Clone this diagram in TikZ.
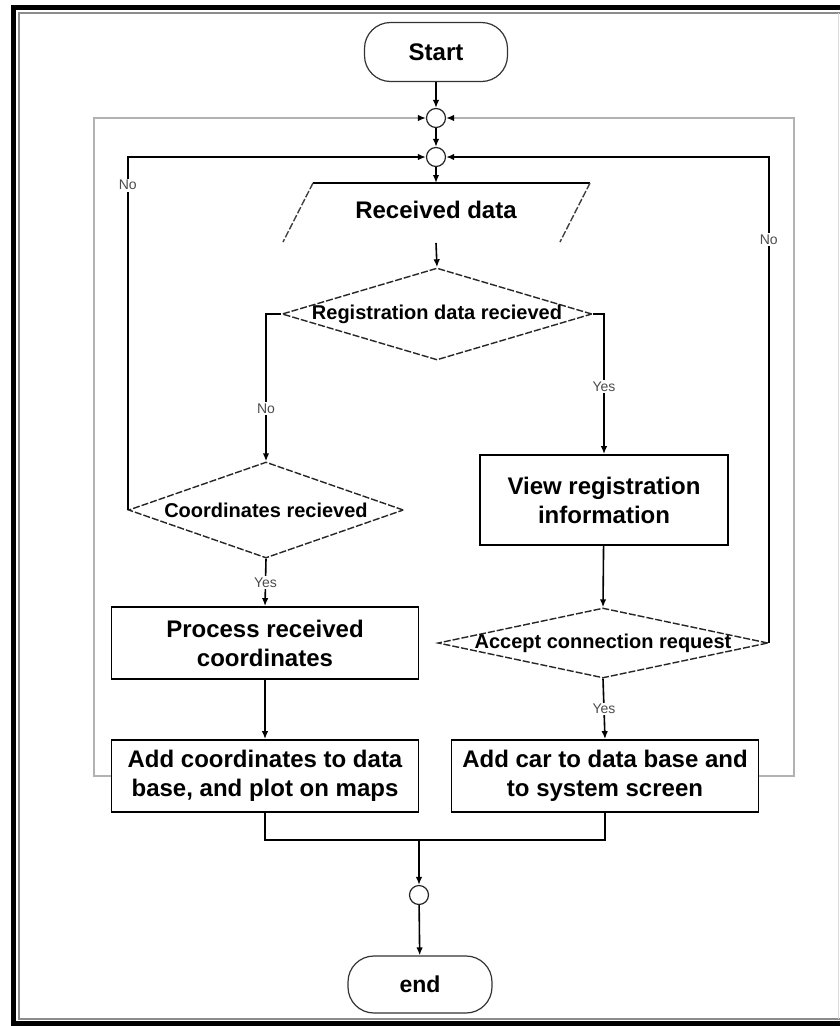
\documentclass[tikz,border=0pt]{standalone}
\usepackage{fontspec}
\setmainfont{Liberation Sans}
\usetikzlibrary{arrows.meta,shapes.geometric}
\begin{document}
\begin{tikzpicture}[x=1pt,y=-1pt,
  line width=1.6pt,
  tip/.style={-{Latex[length=8pt,width=6.5pt,color=black]}},
  term/.style={draw=black!80, line width=1.2pt, rounded corners=26pt,
    minimum width=143pt, minimum height=59pt, inner sep=0pt,
    font=\fontsize{24}{28}\selectfont\bfseries},
  procbox/.style={draw, line width=1.8pt, minimum width=307pt, minimum height=72pt,
    inner sep=0pt, align=center, font=\fontsize{24}{29}\selectfont\bfseries},
  dia/.style={diamond, draw=black!85, line width=1.4pt, dash pattern=on 7pt off 2pt, inner sep=0pt},
  dtext/.style={font=\fontsize{20}{24}\selectfont\bfseries},
  junc/.style={circle, draw=black!85, line width=1.2pt, minimum size=19pt, inner sep=0pt},
  yn/.style={fill=white, inner sep=1.5pt, text=black!70, font=\fontsize{14}{16}\selectfont},
  loopline/.style={draw=black!30, line width=1.5pt},
  slant/.style={draw=black!75, line width=1.4pt, dash pattern=on 7pt off 2pt},
]
\useasboundingbox (0,0) rectangle (840,1026);

% page frame
\draw[line width=5pt] (840,7.5) -- (13.5,7.5) -- (13.5,1023.5) -- (840,1023.5);
\draw[black!45, line width=1.5pt] (840,13) -- (19,13) -- (19,1019) -- (840,1019);
\draw[black!15, line width=1pt] (838,13) -- (838,1019);

% terminals and junctions
\node[term] (start) at (436,52) {Start};
\node[junc] (j1) at (436,118) {};
\node[junc] (j2) at (436,157) {};

% input block (open parallelogram)
\coordinate (ptl) at (313,183);
\coordinate (ptr) at (590,183);
\coordinate (pbl) at (283,242);
\coordinate (pbr) at (560,242);
\coordinate (rtop) at (436,183);
\coordinate (rbot) at (436,243);
\draw[line width=1.8pt] (ptl) -- (ptr);
\draw[slant] (ptl) -- (pbl);
\draw[slant] (ptr) -- (pbr);
\node[font=\fontsize{24}{28}\selectfont\bfseries] (recv) at (436,210) {Received data};

% decisions
\node[dia, minimum width=310pt, minimum height=92pt,
  label={[dtext]center:Registration data recieved}] (d1) at (437,314) {};
\node[dia, minimum width=275pt, minimum height=96pt,
  label={[dtext]center:Coordinates recieved}] (d2) at (266,510) {};
\node[dia, minimum width=330pt, minimum height=70pt,
  label={[dtext]center:Accept connection request}] (d3) at (603,643) {};

% process boxes
\node[procbox, minimum width=248pt, minimum height=90pt] (view) at (604,500) {View registration\\information};
\node[procbox] (proc) at (265,643) {Process received\\coordinates};
\node[procbox] (addc) at (265,776) {Add coordinates to data\\base, and plot on maps};
\node[procbox] (addcar) at (605,776) {Add car to data base and\\to system screen};

\node[junc] (j3) at (419,895) {};
\node[term, minimum width=144pt, minimum height=57pt, font=\fontsize{23}{27}\selectfont\bfseries] (end) at (420,984.5) {end};
\coordinate (merge) at (419,839);

% main flow
\draw[tip] (start) -- (j1);
\draw[tip] (j1) -- (j2);
\draw[tip] (j2) -- (rtop);
\draw[tip] (rbot) -- (d1.north);
\draw[tip] (d1.west) -| node[yn, pos=0.82] {No} (d2.north);
\draw[tip] (d1.east) -| node[yn, pos=0.76] {Yes} (view.north);
\draw[tip] (d2.south) -- node[yn] {Yes} (proc.north);
\draw[tip] (proc) -- (addc);
\draw[tip] (view) -- (d3.north);
\draw[tip] (d3.south) -- node[yn] {Yes} (addcar.north);

% "No" returns to the inner junction
\draw[tip] (d2.west) |- node[yn, pos=0.46] {No} (j2.west);
\draw[tip] (d3.east) |- node[yn, pos=0.415] {No} (j2.east);

% outer loops back to the top junction
\draw[loopline, tip] (addc.west) -- ++(-16.5,0) |- (j1.west);
\draw[loopline, tip] (addcar.east) -- ++(34.5,0) |- (j1.east);

% merge to the end
\draw (addc.south) -- ++(0,27) -| (addcar.south);
\draw[tip, line width=2.2pt] (merge) -- (j3);
\draw[tip] (j3) -- (end);
\end{tikzpicture}
\end{document}
